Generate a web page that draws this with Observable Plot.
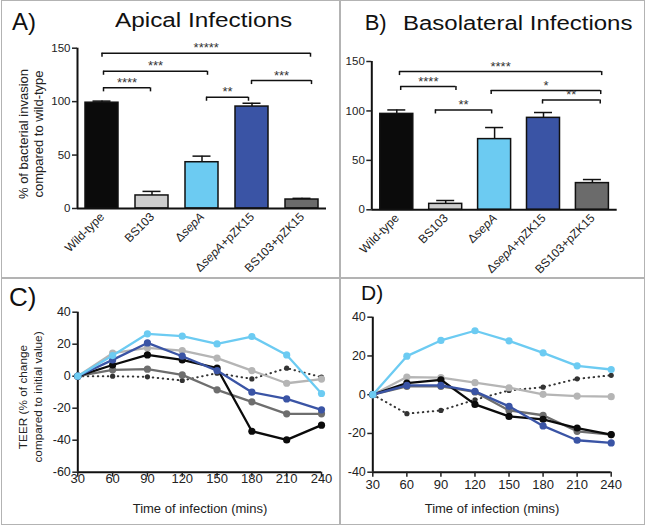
<!DOCTYPE html>
<html><head><meta charset="utf-8">
<script src="https://cdn.jsdelivr.net/npm/d3@7"></script>
<script src="https://cdn.jsdelivr.net/npm/@observablehq/plot@0.6"></script>
<style>
body{margin:0;background:#fff;font-family:"Liberation Sans",Arial,sans-serif;}
#fig{position:relative;width:646px;height:527px;overflow:hidden;background:#fff}
.p{position:absolute}
.t{position:absolute;white-space:nowrap;color:#111;line-height:1;transform-origin:0 0}
.yl{position:absolute;white-space:nowrap;text-align:center;line-height:15px;color:#222;transform:translate(-50%,-50%) rotate(-90deg)}
.xl{position:absolute;white-space:nowrap;font-size:13px;color:#222;transform:translate(-50%,-50%)}
.ln{position:absolute;background:#b3b3b3}
</style></head><body><div id="fig"></div>
<script>
// ---------- data ----------
const groups = ["Wild-type", "BS103", "ΔsepA", "ΔsepA+pZK15", "BS103+pZK15"];
const groupColors = ["#0b0b0b", "#cdcdcd", "#6ccbf2", "#3a54a5", "#6b6b6b"];

const apicalMean = [99, 12.2, 43.3, 95.4, 8.4];
const apicalSem = [1.5, 3.8, 5.7, 3.1, 1.1];
const basoMean = [97, 6, 71.5, 93, 27];
const basoSem = [4, 3.4, 11.7, 5.4, 3.6];

const apicalSigFrom = [0, 0.03, 0.03, 2.09, 2.99];
const apicalSigTo = [4.17, 2.11, 0.97, 2.93, 4.19];
const apicalSigLevel = [145.3, 128.4, 112.9, 104.1, 119.7];
const apicalSigStars = ["*****", "***", "****", "**", "***"];

const basoSigFrom = [0.055, 0.08, 0.79, 1.93, 2.98];
const basoSigTo = [4.19, 1.21, 1.94, 4.17, 4.16];
const basoSigLevel = [139.8, 124.7, 101, 120.6, 111];
const basoSigStars = ["****", "****", "**", "*", "**"];

const times = [30, 60, 90, 120, 150, 180, 210, 240];
const teerSeries = ["Uninfected", "BS103+pZK15", "BS103", "Wild-type", "ΔsepA+pZK15", "ΔsepA"];
const teerColors = ["#333333", "#6e6e6e", "#b5b5b5", "#0b0b0b", "#3a54a5", "#6ccbf2"];

const apicalTeerUninf = [0, 0, -0.4, -2.7, 1.9, -1.7, 5, -0.6];
const apicalTeerBS103pZK = [0, 4, 4.4, 0.8, -8.5, -16, -23.5, -23.5];
const apicalTeerBS103 = [0, 14.4, 17.7, 16, 11.3, 3.5, -4.4, -1.8];
const apicalTeerWT = [0, 7, 13.3, 10.2, 5, -34.4, -39.8, -30.6];
const apicalTeerSepApZK = [0, 10.2, 20.8, 12.5, 3.5, -10, -14.2, -21];
const apicalTeerSepA = [0, 12.9, 26.5, 25, 20.2, 24.8, 13.3, -10.8];

const basoTeerUninf = [0, -9.8, -8.1, -2.6, 2.2, 3.9, 8.2, 10];
const basoTeerBS103pZK = [0, 4.3, 4.3, 1.4, -8.1, -10.6, -18.9, -20.6];
const basoTeerBS103 = [0, 9.1, 8.8, 6.2, 3.6, 0.2, -0.7, -1];
const basoTeerWT = [0, 6, 7.7, -5, -11.2, -12.7, -17.2, -20.6];
const basoTeerSepApZK = [0, 4.8, 4.8, 1.7, -6, -16.1, -23.5, -24.9];
const basoTeerSepA = [0, 19.9, 28, 33, 27.8, 21.6, 14.9, 13];

// ---------- helpers ----------
const FONT = '"Liberation Sans", Arial, sans-serif';
const fig = document.getElementById("fig");

function italicize(svg) {
  svg.querySelectorAll("text").forEach(t => {
    const s = t.textContent;
    const k = s.indexOf("sepA");
    if (k < 0 || t.children.length) return;
    t.textContent = "";
    const parts = [[s.slice(0, k), false], ["sepA", true], [s.slice(k + 4), false]];
    for (const [txt, it] of parts) {
      if (!txt) continue;
      const ts = document.createElementNS("http://www.w3.org/2000/svg", "tspan");
      ts.textContent = txt;
      if (it) ts.setAttribute("font-style", "italic");
      t.appendChild(ts);
    }
  });
}

function place(node, left, top) {
  const d = document.createElement("div");
  d.className = "p";
  d.style.left = left + "px";
  d.style.top = top + "px";
  d.appendChild(node);
  fig.appendChild(d);
}

function barPanel(mean, sem, sigFrom, sigTo, sigLevel, sigStars, o) {
  const {width, height, ml, mr, mt, mb, x0, x1} = o;
  const xPerPx = (x1 - x0) / (width - ml - mr);
  const yPerPx = 150 / (height - mt - mb);
  const hb = 16.5 * xPerPx, cap = 9 * xPerPx, tick = 4 * yPerPx;
  const rows = groups.map((g, i) => ({i, g, mean: mean[i], sem: sem[i], color: groupColors[i]}));
  const sig = sigFrom.map((f, k) => ({from: f, to: sigTo[k], y: sigLevel[k], stars: sigStars[k]}));
  const ends = sig.flatMap(s => [{x: s.from, y: s.y}, {x: s.to, y: s.y}]);
  const svg = Plot.plot({
    width, height, marginLeft: ml, marginRight: mr, marginTop: mt, marginBottom: mb,
    x: {domain: [x0, x1], axis: null},
    y: {domain: [0, 150], axis: null},
    color: {type: "identity"},
    style: {fontFamily: FONT, background: "transparent", color: "#222"},
    marks: [
      Plot.ruleX(rows, {x: "i", y1: "mean", y2: d => d.mean + d.sem, stroke: "#111", strokeWidth: 1.5}),
      Plot.ruleY(rows, {y: d => d.mean + d.sem, x1: d => d.i - cap, x2: d => d.i + cap, stroke: "#111", strokeWidth: 1.5}),
      Plot.rect(rows, {x1: d => d.i - hb, x2: d => d.i + hb, y1: 0, y2: "mean", fill: "color", stroke: "#111", strokeWidth: 1.5}),
      Plot.ruleY([0], {stroke: "#111", strokeWidth: 2}),
      Plot.ruleX([x0], {y1: 0, y2: 150, stroke: "#111", strokeWidth: 2}),
      Plot.axisY({ticks: [0, 50, 100, 150], tickSize: 5, tickPadding: 2, fontSize: 11.5, label: null, strokeWidth: 1.5, color: "#222"}),
      Plot.text(rows, {x: "i", frameAnchor: "bottom", text: "g", rotate: -45, textAnchor: "end", dy: 9, dx: 3, fontSize: 12, fill: "#222"}),
      Plot.ruleY(sig, {y: "y", x1: "from", x2: "to", stroke: "#111", strokeWidth: 1.5}),
      Plot.ruleX(ends, {x: "x", y1: "y", y2: d => d.y - tick, stroke: "#111", strokeWidth: 1.5}),
      Plot.text(sig, {x: d => (d.from + d.to) / 2, y: "y", text: "stars", dy: -5, fontSize: 13, fill: "#333"})
    ]
  });
  italicize(svg);
  return svg;
}

function linePanel(valuesList, o) {
  const {width, height, ml, mr, mt, mb, yMin, yMax, yTicks, xTickPad} = o;
  const marks = [
    Plot.ruleX([30], {y1: yMin, y2: yMax, stroke: "#111", strokeWidth: 2}),
    Plot.ruleY([yMin], {x1: 30, x2: 240, stroke: "#111", strokeWidth: 2}),
    Plot.axisY({ticks: yTicks, tickSize: 5, tickPadding: 2, fontSize: 12.5, label: null, strokeWidth: 1.5, color: "#222", tickFormat: d => d}),
    Plot.axisX({ticks: times, tickSize: 5, tickPadding: xTickPad, fontSize: 13, label: null, strokeWidth: 1.5, color: "#222"})
  ];
  valuesList.forEach((vals, s) => {
    const rows = vals.map((v, k) => ({t: times[k], v}));
    const dotted = s === 0;
    marks.push(Plot.line(rows, {x: "t", y: "v", stroke: teerColors[s], strokeWidth: dotted ? 2 : 2.3,
      strokeDasharray: dotted ? "0.5,4.5" : null, strokeLinecap: "round"}));
    marks.push(Plot.dot(rows, {x: "t", y: "v", fill: teerColors[s], r: dotted ? 2.6 : 3.6}));
  });
  return Plot.plot({
    width, height, marginLeft: ml, marginRight: mr, marginTop: mt, marginBottom: mb,
    x: {domain: [30, 240]},
    y: {domain: [yMin, yMax]},
    style: {fontFamily: FONT, background: "transparent", color: "#222"},
    marks
  });
}

// ---------- panels ----------
place(barPanel(apicalMean, apicalSem, apicalSigFrom, apicalSigTo, apicalSigLevel, apicalSigStars,
  {width: 340, height: 278, ml: 77, mr: 14, mt: 47.7, mb: 70, x0: -0.49, x1: 4.49}), 0, 0);
place(barPanel(basoMean, basoSem, basoSigFrom, basoSigTo, basoSigLevel, basoSigStars,
  {width: 306, height: 278, ml: 31.3, mr: 29.3, mt: 61, mb: 68.7, x0: -0.511, x1: 4.507}), 340, 0);

place(linePanel([apicalTeerUninf, apicalTeerBS103pZK, apicalTeerBS103, apicalTeerWT, apicalTeerSepApZK, apicalTeerSepA],
  {width: 340, height: 247, ml: 77.3, mr: 19, mt: 33.7, mb: 53.3, yMin: -60, yMax: 40, yTicks: [-60, -40, -20, 0, 20, 40], xTickPad: -3}), 0, 278);
place(linePanel([basoTeerUninf, basoTeerBS103pZK, basoTeerBS103, basoTeerWT, basoTeerSepApZK, basoTeerSepA],
  {width: 306, height: 247, ml: 32.3, mr: 35.3, mt: 38.7, mb: 53.3, yMin: -40, yMax: 40, yTicks: [-40, -20, 0, 20, 40], xTickPad: 2.5}), 340, 278);

// ---------- frame lines ----------
function line(l, t, w, h) {
  const d = document.createElement("div");
  d.className = "ln";
  Object.assign(d.style, {left: l + "px", top: t + "px", width: w + "px", height: h + "px"});
  fig.appendChild(d);
}
line(0.5, 0, 1.5, 525);
line(643.5, 0, 1.5, 525);
line(0.5, 0, 644.5, 1.2);
line(0.5, 523.5, 644.5, 1.5);
line(339.3, 0, 1.5, 525);
line(0.5, 277, 644.5, 1.5);

// ---------- texts ----------
function txt(s, left, baseline, size, sx) {
  const d = document.createElement("div");
  d.className = "t";
  d.style.fontSize = size + "px";
  d.style.left = left + "px";
  d.style.top = (baseline - 0.8465 * size) + "px";
  if (sx) d.style.transform = `scaleX(${sx})`;
  d.textContent = s;
  fig.appendChild(d);
}
txt("A)", 12, 30.7, 24);
txt("Apical Infections", 115, 26.7, 20, 1.216);
txt("B)", 364.7, 30.7, 22);
txt("Basolateral Infections", 403, 30, 20, 1.2);
txt("C)", 9, 306, 26);
txt("D)", 361, 300, 21);

function ylab(html, cx, cy, size) {
  const d = document.createElement("div");
  d.className = "yl";
  d.style.left = cx + "px";
  d.style.top = cy + "px";
  d.style.fontSize = size + "px";
  d.innerHTML = html;
  fig.appendChild(d);
}
ylab("% of bacterial invasion<br>compared to wild-type", 30.5, 133.5, 13);
ylab("TEER (% of change<br>compared to initial value)", 30.5, 396.7, 11.8);

function xlab(s, cx, cy) {
  const d = document.createElement("div");
  d.className = "xl";
  d.style.left = cx + "px";
  d.style.top = cy + "px";
  d.textContent = s;
  fig.appendChild(d);
}
xlab("Time of infection (mins)", 200, 508);
xlab("Time of infection (mins)", 492, 508);
</script></body></html>
